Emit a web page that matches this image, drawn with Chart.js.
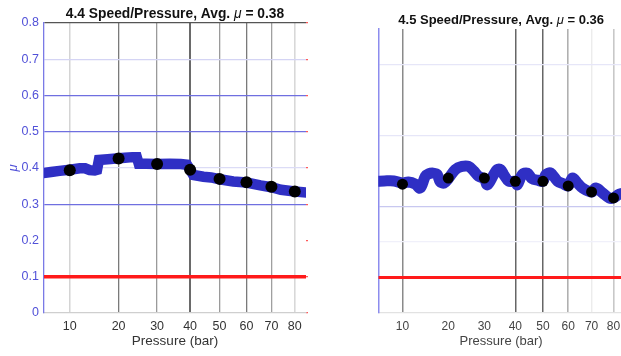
<!DOCTYPE html>
<html>
<head>
<meta charset="utf-8">
<script src="https://cdn.jsdelivr.net/npm/chart.js@4.4.1/dist/chart.umd.min.js"></script>
<style>
  html, body { margin: 0; padding: 0; background: #fff; overflow: hidden; width: 621px; height: 356px; }
  canvas { position: absolute; top: 0; }
  #c44 { left: 0; }
  #c45 { left: 360px; }
</style>
</head>
<body>
<canvas id="c44" width="316" height="356"></canvas>
<canvas id="c45" width="270" height="356"></canvas>
<script>
// ---- data ----
const X_MIN = 6, X_MAX = 85;
const X_TICKS = [10, 20, 30, 40, 50, 60, 70, 80];
const Y_TICKS = [0, 0.1, 0.2, 0.3, 0.4, 0.5, 0.6, 0.7, 0.8];
const RED_LEVEL = 0.1;

// run 4.4
const P44_BAND  = [5.5, 7, 8.3, 10, 11.8, 12.8, 13.7, 14.7, 15.2, 15.6, 17.5, 19.4, 21.5, 23.4, 24.5, 25.0, 27, 30, 33.7, 37, 39, 40, 41, 44.4, 47, 50, 55, 60, 65.5, 70, 74, 80, 86];
const MU44_BAND = [0.385, 0.389, 0.392, 0.395, 0.399, 0.399, 0.394, 0.393, 0.395, 0.422, 0.424, 0.426, 0.428, 0.430, 0.430, 0.412, 0.412, 0.411, 0.412, 0.411, 0.409, 0.395, 0.381, 0.376, 0.374, 0.369, 0.363, 0.360, 0.352, 0.347, 0.340, 0.335, 0.332];
const P_DOTS    = [10, 20, 30, 40, 50, 60, 70, 80];
const MU44_DOTS = [0.394, 0.426, 0.411, 0.395, 0.370, 0.361, 0.348, 0.335];

// run 4.5
const P45_BAND  = [5.8, 6.9, 8.5, 10, 11.1, 12.5, 13.5, 14.6, 15.3, 16.4, 17.3, 18.0, 19.0, 20, 21.8, 23.6, 25.4, 26.9, 28.3, 30, 30.9, 32.9, 34.0, 35.1, 36.1, 37.8, 40, 40.7, 42.4, 44.2, 46.0, 48, 50, 51.1, 53.0, 55.7, 58, 60, 61.8, 63.9, 66.1, 70, 71.9, 75.0, 78.0, 80, 82.8, 86];
const MU45_BAND = [0.371, 0.372, 0.372, 0.366, 0.369, 0.363, 0.352, 0.385, 0.392, 0.394, 0.390, 0.370, 0.366, 0.378, 0.404, 0.413, 0.413, 0.400, 0.385, 0.378, 0.361, 0.390, 0.404, 0.404, 0.390, 0.371, 0.371, 0.361, 0.390, 0.394, 0.378, 0.374, 0.371, 0.390, 0.394, 0.371, 0.364, 0.358, 0.380, 0.366, 0.352, 0.341, 0.352, 0.338, 0.324, 0.324, 0.335, 0.338];
const MU45_DOTS = [0.363, 0.380, 0.380, 0.371, 0.371, 0.358, 0.341, 0.324];

// ---- pressure axis: compressed power scale ----
const POW = 0.55;
class PowScale extends Chart.LinearScale {
  configure() {
    super.configure();
    this._p0 = Math.pow(this.min, POW);
    this._pr = Math.pow(this.max, POW) - this._p0;
  }
  getPixelForValue(v) {
    if (v === null || v === undefined || isNaN(v)) return NaN;
    return this.getPixelForDecimal((Math.pow(v, POW) - this._p0) / this._pr);
  }
  getValueForPixel(px) {
    return Math.pow(this.getDecimalForPixel(px) * this._pr + this._p0, 1 / POW);
  }
}
PowScale.id = 'pow';
PowScale.defaults = Chart.LinearScale.defaults;
Chart.register(PowScale);

const FONT = '"Liberation Sans", Arial, Helvetica, sans-serif';
Chart.defaults.font.family = FONT;

// title with italic mu
const richTitle = {
  id: 'richTitle',
  afterDraw(chart, args, opts) {
    const ctx = chart.ctx;
    const { left, right } = chart.chartArea;
    ctx.save();
    const fonts = opts.parts.map(p => (p.italic ? 'italic ' : 'bold ') + opts.size + 'px ' + FONT);
    const widths = opts.parts.map((p, i) => { ctx.font = fonts[i]; return ctx.measureText(p.text).width; });
    let x = (left + right) / 2 - widths.reduce((a, b) => a + b, 0) / 2;
    ctx.textBaseline = 'middle';
    ctx.fillStyle = '#111';
    opts.parts.forEach((p, i) => {
      ctx.font = fonts[i];
      ctx.fillText(p.text, x, opts.y);
      x += widths[i];
    });
    ctx.restore();
  }
};

const pts = (xs, ys) => xs.map((x, i) => ({ x: x, y: ys[i] }));
const setTicks = list => s => { s.ticks = list.map(v => ({ value: v })); };

function buildDatasets(bandP, bandMu, dotsMu, cfg) {
  return [
    { data: pts(bandP, bandMu), borderColor: '#2f2fc4', borderWidth: cfg.band, pointRadius: 0,
      tension: cfg.tension, clip: 0, order: 2 },
    { data: pts([X_MIN, X_MAX], [RED_LEVEL, RED_LEVEL]), borderColor: '#ff1a1a', borderWidth: cfg.red,
      pointRadius: 0, order: 3 },
    { data: pts(P_DOTS, dotsMu), showLine: false, pointRadius: cfg.dot, pointBackgroundColor: '#000',
      pointBorderWidth: 0, order: 1 }
  ];
}

// ---- chart 4.4 ----
const X44_GRID  = ['#d4d4d4', '#7a7a7a', '#9a9a9a', '#6a6a6a', '#9a9a9a', '#7a7a7a', '#a0a0a0', '#d8d8d8'];
const X44_WIDTH = [1.5, 1.3, 1.3, 2, 1.3, 1.3, 1.3, 1.6];
const Y44_GRID  = ['transparent', 'transparent', 'transparent', '#6f6fe0', '#dcdcf6', '#6f6fe0', '#6f6fe0', '#d4d4f4', '#555'];

new Chart(document.getElementById('c44'), {
  type: 'line',
  data: { datasets: buildDatasets(P44_BAND, MU44_BAND, MU44_DOTS, { band: 10.5, red: 3.5, dot: 6, tension: 0 }) },
  options: {
    responsive: false, animation: false, devicePixelRatio: 1,
    layout: { padding: { top: 23, left: 0, right: 0, bottom: 0 } },
    plugins: {
      legend: { display: false }, tooltip: { enabled: false },
      richTitle: { parts: [{ text: '4.4 Speed/Pressure, Avg. ' }, { text: 'μ', italic: true }, { text: ' = 0.38' }], y: 14.5, size: 13.8 }
    },
    scales: {
      x: {
        type: 'pow', min: X_MIN, max: X_MAX, bounds: 'data',
        afterBuildTicks: setTicks(X_TICKS),
        afterFit: s => { s.height = 43; },
        grid: { drawTicks: false, color: c => X44_GRID[c.index], lineWidth: c => X44_WIDTH[c.index] },
        border: { color: '#cfcfcf', width: 1.3 },
        ticks: { padding: 6, color: '#333', font: { size: 12.5 }, callback: v => String(v) },
        title: { display: true, text: 'Pressure (bar)', color: '#333', font: { size: 13.5 }, padding: { top: 0, bottom: 6.5 } }
      },
      y: {
        min: 0, max: 0.8,
        afterBuildTicks: setTicks(Y_TICKS),
        afterFit: s => { s.width = 44; },
        grid: { drawTicks: false, color: c => Y44_GRID[c.index], lineWidth: 1.2 },
        border: { color: '#7a7ae6', width: 1.3 },
        ticks: { padding: 5, color: '#5151d8', font: { size: 12.5 }, callback: v => (v === 0 ? '0' : v.toFixed(1)) },
        title: { display: true, text: 'μ', color: '#5151d8', font: { size: 13, style: 'italic' }, padding: { top: 6, bottom: 0 } }
      },
      y2: {
        position: 'right', min: 0, max: 0.8,
        afterBuildTicks: setTicks(Y_TICKS),
        afterFit: s => { s.width = 10; },
        grid: { drawOnChartArea: false, drawTicks: true, tickLength: 2, color: '#ff5a5a', lineWidth: 1.2 },
        border: { display: false },
        ticks: { display: false }
      }
    }
  },
  plugins: [richTitle]
});

// ---- chart 4.5 ----
const X45_GRID  = ['#8a8a8a', 'transparent', 'transparent', '#666', '#666', '#b0b0b0', '#ececec', '#c8c8c8'];
const X45_WIDTH = [1.5, 1, 1, 1.5, 1.5, 1.6, 1.4, 1.6];
const Y45_GRID  = ['transparent', 'transparent', '#f0f0fa', '#c8c8f0', 'transparent', '#e6e6f8', 'transparent', '#e6e6f8', 'transparent'];

new Chart(document.getElementById('c45'), {
  type: 'line',
  data: { datasets: buildDatasets(P45_BAND, MU45_BAND, MU45_DOTS, { band: 11, red: 3, dot: 5.5, tension: 0.35 }) },
  options: {
    responsive: false, animation: false, devicePixelRatio: 1,
    layout: { padding: { top: 29, left: 0, right: 6, bottom: 0 } },
    plugins: {
      legend: { display: false }, tooltip: { enabled: false },
      richTitle: { parts: [{ text: '4.5 Speed/Pressure, Avg. ' }, { text: 'μ', italic: true }, { text: ' = 0.36' }], y: 20.7, size: 13 }
    },
    scales: {
      x: {
        type: 'pow', min: X_MIN, max: X_MAX, bounds: 'data',
        afterBuildTicks: setTicks(X_TICKS),
        afterFit: s => { s.height = 43; },
        grid: { drawTicks: false, color: c => X45_GRID[c.index], lineWidth: c => X45_WIDTH[c.index] },
        border: { color: '#e2e2e2', width: 1.2 },
        ticks: { padding: 6, color: '#444', font: { size: 12 }, callback: v => String(v) },
        title: { display: true, text: 'Pressure (bar)', color: '#444', font: { size: 13 }, padding: { top: 0, bottom: 6.5 } }
      },
      y: {
        min: 0, max: 0.8,
        afterBuildTicks: setTicks(Y_TICKS),
        afterFit: s => { s.width = 18.3; },
        grid: { drawTicks: false, color: c => Y45_GRID[c.index], lineWidth: 1.2 },
        border: { color: '#8c8cee', width: 1.5 },
        ticks: { display: false }
      }
    }
  },
  plugins: [richTitle]
});
</script>
</body>
</html>
